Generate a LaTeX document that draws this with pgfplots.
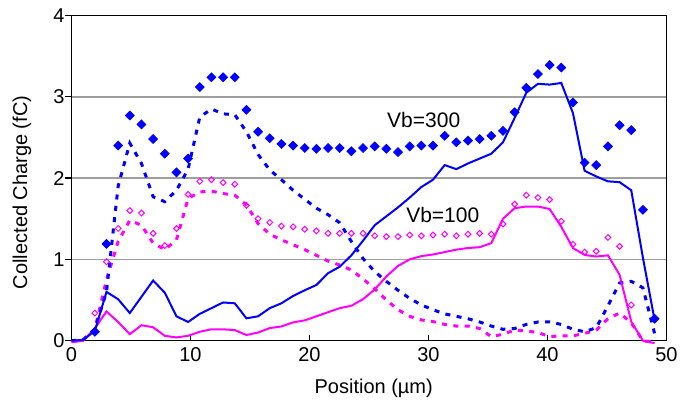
\documentclass[border=0pt]{standalone}
\usepackage{fontspec}
\setmainfont{Liberation Sans}
\usepackage{pgfplots}
\usepackage{pgfplotstable}
\pgfplotsset{compat=1.18}
\definecolor{vblue}{RGB}{0,0,255}
\definecolor{vmag}{RGB}{255,0,255}

% A: Vb=300 points, B: Vb=300 solid, D: Vb=300 dashed
% E: Vb=100 points, M: Vb=100 solid, F: Vb=100 dashed
\pgfplotstableread{
x     A    B     D    E     M     F
0     nan  0.00  0.00 nan   -0.02 -0.01
0.98  nan  0.01  0.01 nan   0.00  0.01
1.96  0.11 0.12  0.14 0.34  0.15  0.14
2.94  1.19 0.60  0.60 0.97  0.36  0.75
3.92  2.40 0.51  1.90 1.38  0.23  1.22
4.90  2.77 0.34  2.43 1.60  0.08  1.48
5.88  2.66 0.54  2.18 1.57  0.19  1.42
6.86  2.48 0.74  1.77 1.32  0.165 1.20
7.84  2.30 0.59  1.71 1.17  0.06  1.12
8.82  2.07 0.30  1.85 1.38  0.04  1.24
9.80  2.24 0.23  2.11 1.80  0.06  1.75
10.78 3.12 0.33  2.75 1.96  0.11  1.83
11.76 3.24 0.40  2.85 1.98  0.14  1.84
12.74 3.24 0.47  2.79 1.945 0.14  1.81
13.72 3.24 0.46  2.78 1.925 0.13  1.79
14.70 2.84 0.275 2.57 1.665 0.07  1.67
15.68 2.57 0.30  2.29 1.50  0.10  1.44
16.66 2.49 0.40  2.10 1.455 0.155 1.31
17.64 2.42 0.46  1.98 1.41  0.175 1.24
18.62 2.40 0.55  1.85 1.40  0.225 1.18
19.60 2.37 0.62  1.74 1.37  0.25  1.12
20.58 2.36 0.685 1.63 1.35  0.30  1.05
21.56 2.37 0.83  1.55 1.32  0.35  0.98
22.54 2.37 0.91  1.45 1.32  0.40  0.93
23.52 2.33 1.05  1.22 1.32  0.43  0.87
24.50 2.37 1.23  1.01 1.32  0.51  0.76
25.48 2.39 1.42  0.85 1.29  0.63  0.64
26.46 2.36 1.53  0.73 1.28  0.79  0.50
27.44 2.32 1.64  0.62 1.28  0.92  0.38
28.42 2.39 1.76  0.52 1.30  1.00  0.30
29.40 2.40 1.89  0.44 1.29  1.04  0.255
30.38 2.40 1.98  0.38 1.30  1.06  0.235
31.36 2.52 2.16  0.33 1.31  1.09  0.20
32.34 2.44 2.11  0.30 1.29  1.12  0.18
33.32 2.46 2.18  0.27 1.31  1.14  0.18
34.30 2.48 2.24  0.23 1.32  1.15  0.15
35.28 2.52 2.30  0.18 1.31  1.20  0.05
36.26 2.58 2.44  0.14 1.435 1.50  0.08
37.24 2.81 2.74  0.15 1.68  1.63  0.13
38.22 3.11 3.05  0.20 1.79  1.65  0.12
39.20 3.28 3.16  0.23 1.76  1.65  0.10
40.18 3.39 3.15  0.23 1.735 1.62  0.05
41.16 3.36 3.17  0.20 1.47  1.40  0.06
42.14 2.93 2.80  0.14 1.185 1.14  0.06
43.12 2.19 2.09  0.11 1.09  1.055 0.09
44.10 2.16 2.02  0.16 1.10  1.035 0.13
45.08 2.39 1.96  0.43 1.27  1.05  0.27
46.06 2.65 1.95  0.71 1.16  0.81  0.34
47.04 2.59 1.85  0.73 0.44  0.235 0.22
48.02 1.61 1.02  0.65 nan   0.00  0.00
49.00 0.27 0.255 0.09 nan   -0.03 -0.02
}\charge

\begin{document}
\begin{tikzpicture}
\useasboundingbox (-35.75pt,-34.65pt) rectangle (310.75pt,170.35pt);
\begin{axis}[
    at={(0,0)}, anchor=south west,
    scale only axis, width=297.5pt, height=162.6pt,
    xmin=0, xmax=50, ymin=0, ymax=4,
    xtick={0,10,20,30,40,50}, ytick={0,1,2,3,4},
    xtick pos=bottom, ytick pos=left,
    tick align=inside,
    major tick length=3pt,
    y tick style={xshift=-3pt},
    tick style={black, line width=0.6pt},
    ymajorgrids, grid style={black!38, line width=0.8pt},
    axis line style={line width=0.75pt},
    ticklabel style={font=\fontsize{10}{12}\selectfont},
    /pgf/number format/assume math mode=true,
    xlabel={Position (µm)}, ylabel={Collected Charge (fC)},
    label style={font=\fontsize{10}{12}\selectfont},
    xlabel style={at={(axis description cs:0.508,-0.1455)}, anchor=center},
    ylabel style={at={(axis description cs:-0.0832,0.456)}, anchor=center},
    unbounded coords=jump,
    clip=false,
]
  \addplot[vmag, line width=1.5pt, dash pattern=on 2.5pt off 3.2pt] table[x=x,y=F] {\charge};
  \addplot[vblue, line width=1.5pt, dash pattern=on 2.5pt off 3.2pt] table[x=x,y=D] {\charge};
  \addplot[vmag, line width=1pt] table[x=x,y=M] {\charge};
  \addplot[vblue, line width=1pt] table[x=x,y=B] {\charge};
  \addplot[only marks, mark=diamond, mark size=1.45pt, vmag, mark options={xscale=1.33, line width=0.5pt, fill=white}] table[x=x,y=E] {\charge};
  \addplot[only marks, mark=diamond*, mark size=2.2pt, vblue, mark options={xscale=1.33, fill=vblue}] table[x=x,y=A] {\charge};

  \node[font=\fontsize{10.5}{12}\selectfont] at (axis cs:29.6,2.71) {Vb=300};
  \node[font=\fontsize{10.5}{12}\selectfont] at (axis cs:31.2,1.546) {Vb=100};
\end{axis}
\end{tikzpicture}
\end{document}
